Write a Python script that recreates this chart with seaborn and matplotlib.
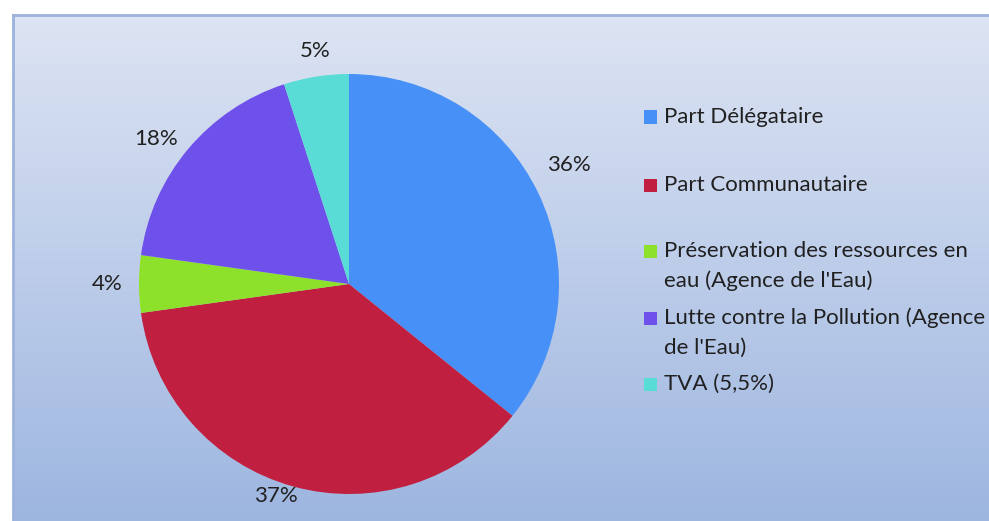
import numpy as np
import matplotlib
matplotlib.use("Agg")
import matplotlib.pyplot as plt
from matplotlib.colors import LinearSegmentedColormap
from matplotlib.patches import Rectangle
import seaborn as sns

categories = ["Part Délégataire",
              "Part Communautaire",
              "Préservation des ressources en\neau (Agence de l'Eau)",
              "Lutte contre la Pollution (Agence\nde l'Eau)",
              "TVA (5,5%)"]
values = [35.8, 37.0, 4.4, 17.8, 5.0]
pct_labels = ["36%", "37%", "4%", "18%", "5%"]
colors = ["#4790F7", "#C11F3F", "#8EE12A", "#6E50EA", "#59DBD6"]

sns.set_theme(style="white")
plt.rcParams['font.family'] = ['Lato', 'DejaVu Sans']

W, H = 989, 521
fig = plt.figure(figsize=(W / 100, H / 100), dpi=100)
fig.patch.set_facecolor('white')

# gradient chart-area background
bg = fig.add_axes([13 / W, 0, 1 - 13 / W, (H - 15) / H])
grad = np.linspace(0, 1, 256).reshape(-1, 1)
cmap = LinearSegmentedColormap.from_list('bg', ['#DDE4F3', '#9DB6E0'])
bg.imshow(grad, aspect='auto', cmap=cmap, extent=[0, 1, 0, 1], origin='upper')
bg.set_xticks([]); bg.set_yticks([])
for s in ['right', 'bottom']:
    bg.spines[s].set_visible(False)
for s in ['top', 'left']:
    bg.spines[s].set_color('#9DB2DC')
    bg.spines[s].set_linewidth(2)

# pie
R = 210
cx, cy = 349, 284
ax = fig.add_axes([(cx - R) / W, (H - cy - R) / H, 2 * R / W, 2 * R / H])
ax.set_facecolor('none')
wedges, _ = ax.pie(values, colors=colors, startangle=90, counterclock=False,
                   radius=1, wedgeprops=dict(linewidth=0))
ax.set_xlim(-1, 1); ax.set_ylim(-1, 1)
ax.axis('off')

label_dist = [1.19, 1.07, 1.15, 1.15, 1.12]
label_shift = [2.8, -3.5, 0.0, 3.0, -0.7]
txt_col = '#202020'
for w, lab, d, sh in zip(wedges, pct_labels, label_dist, label_shift):
    ang = np.deg2rad((w.theta1 + w.theta2) / 2 + sh)
    ax.text(d * np.cos(ang), d * np.sin(ang), lab, ha='center', va='center',
            fontsize=16, color=txt_col, clip_on=False)

# legend (manual, Excel-like spacing)
leg_y = [117, 185, 251, 318, 384]
line_h = 30
for lab, col, y in zip(categories, colors, leg_y):
    fig.patches.append(Rectangle((644 / W, (H - y - 6.5) / H), 13 / W, 13 / H,
                                 transform=fig.transFigure, facecolor=col,
                                 edgecolor='none'))
    for i, line in enumerate(lab.split("\n")):
        fig.text(664 / W, (H - y - i * line_h) / H, line, ha='left', va='center',
                 fontsize=16, color=txt_col)

fig.savefig("out.png", dpi=100, facecolor='white')
